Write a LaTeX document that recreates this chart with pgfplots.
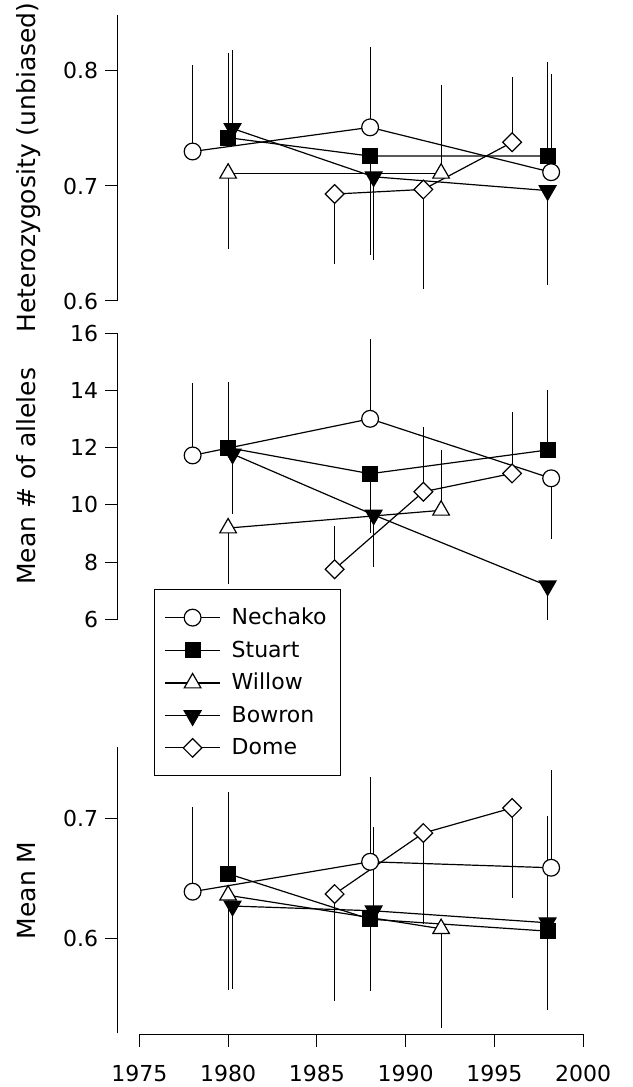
\documentclass[border=0pt]{standalone}
\usepackage{fontspec}
\setmainfont{DejaVu Sans}
\usepackage{pgfplots}
\usepackage{pgfplotstable}
\pgfplotsset{compat=1.18}

% x = year, y = mean, ep/em = one-sided bar up/down
% --- heterozygosity
\pgfplotstableread{
x y ep em
1978 0.730 0.075 0
1988 0.751 0.070 0
1998.2 0.712 0.085 0
}\hNech
\pgfplotstableread{
x y ep em
1980 0.742 0.074 0
1988 0.726 0 0.086
1998 0.726 0.082 0
}\hStu
\pgfplotstableread{
x y ep em
1980 0.711 0 0.066
1992 0.711 0.077 0
}\hWil
\pgfplotstableread{
x y ep em
1980.25 0.750 0.068 0
1988.2 0.708 0 0.072
1998 0.696 0 0.082
}\hBow
\pgfplotstableread{
x y ep em
1986 0.693 0 0.061
1991 0.697 0 0.087
1996 0.738 0.057 0
}\hDome
% --- mean number of alleles
\pgfplotstableread{
x y ep em
1978 11.73 2.53 0
1988 13.01 2.79 0
1998.2 10.93 0 2.13
}\aNech
\pgfplotstableread{
x y ep em
1980 12.00 2.31 0
1988 11.09 0 2.08
1998 11.92 2.08 0
}\aStu
\pgfplotstableread{
x y ep em
1980 9.19 0 1.97
1992 9.81 2.12 0
}\aWil
\pgfplotstableread{
x y ep em
1980.25 11.78 0 2.11
1988.2 9.65 0 1.83
1998 7.17 0 1.19
}\aBow
\pgfplotstableread{
x y ep em
1986 7.75 1.51 0
1991 10.46 2.25 0
1996 11.10 2.14 0
}\aDome
% --- mean M
\pgfplotstableread{
x y ep em
1978 0.639 0.071 0
1988 0.664 0.071 0
1998.2 0.659 0.082 0
}\mNech
\pgfplotstableread{
x y ep em
1980 0.654 0.068 0
1988 0.616 0 0.060
1998 0.606 0 0.066
}\mStu
\pgfplotstableread{
x y ep em
1980 0.636 0 0.079
1992 0.608 0 0.083
}\mWil
\pgfplotstableread{
x y ep em
1980.25 0.627 0 0.069
1988.2 0.623 0.070 0
1998 0.613 0.089 0
}\mBow
\pgfplotstableread{
x y ep em
1986 0.637 0 0.089
1991 0.688 0 0.076
1996 0.709 0 0.075
}\mDome

\pgfplotsset{
  panel/.style={
    scale only axis, width=232.7pt, height=143pt,
    xmin=1973.78, xmax=2000,
    axis x line=none, axis y line*=left,
    axis line style={line width=0.5pt},
    tick align=outside, major tick length=6.3pt,
    every tick/.style={black, line width=0.5pt},
    tick label style={font=\fontsize{11}{13}\selectfont},
    /pgf/number format/assume math mode=true,
    label style={font=\fontsize{12.5}{15}\selectfont},
    clip=false,
    error bars/y dir=both, error bars/y explicit,
    error bars/error mark=none,
    error bars/error bar style={black, line width=0.6pt, solid},
    legend image code/.code={
      \draw[mark repeat=2,mark phase=2] plot coordinates {(0pt,0pt) (13.75pt,0pt) (27.5pt,0pt)};
      \path (31pt,0pt);},
  },
  nech/.style={black, line width=0.6pt, mark=*, mark size=4.2pt, mark options={fill=white, solid}},
  stu/.style={black, line width=0.6pt, mark=square*, mark size=3.75pt, mark options={fill=black, solid}},
  wil/.style={black, line width=0.6pt, mark=triangle*, mark size=4.8pt, mark options={fill=white, solid}},
  bow/.style={black, line width=0.6pt, mark=triangle*, mark size=4.8pt, mark options={fill=black, rotate=180, solid}},
  dome/.style={black, line width=0.6pt, mark=square*, mark size=3.3pt, mark options={fill=white, rotate=45, solid}},
}
\newcommand\series[2]{\addplot[#1] table[x=x, y=y, y error plus=ep, y error minus=em] {#2};}

\begin{document}
\begin{tikzpicture}
\useasboundingbox (0,0) rectangle (316pt,543.5pt);

% heterozygosity
\begin{axis}[panel, at={(58.85pt,393pt)}, anchor=south west,
  ymin=0.6, ymax=0.8487, ytick={0.6,0.7,0.8},
  yticklabel style={/pgf/number format/.cd, fixed, fixed zerofill, precision=1},
  ylabel={Heterozygosity (unbiased)},
  ylabel style={at={(axis description cs:-0.1756,0.467)}, anchor=base}]
\series{nech}{\hNech}
\series{stu}{\hStu}
\series{wil}{\hWil}
\series{bow}{\hBow}
\series{dome}{\hDome}
\end{axis}

% alleles
\begin{axis}[panel, at={(58.85pt,233.85pt)}, anchor=south west,
  ymin=6, ymax=16, ytick={6,8,...,16},
  ylabel={Mean \# of alleles},
  ylabel style={at={(axis description cs:-0.1756,0.5)}, anchor=base},
  legend style={at={(axis description cs:0.078,0.105)}, anchor=north west,
    draw=black, line width=0.5pt, font=\fontsize{11}{13}\selectfont,
    inner xsep=5pt, inner ysep=7pt, nodes={inner xsep=2pt, inner ysep=2pt},
    row sep=2.6pt},
  legend cell align=left]
\series{nech}{\aNech}
\series{stu}{\aStu}
\series{wil}{\aWil}
\series{bow}{\aBow}
\series{dome}{\aDome}
\legend{Nechako,Stuart,Willow,Bowron,Dome}
\end{axis}

% mean M
\begin{axis}[panel, at={(58.85pt,26.85pt)}, anchor=south west,
  ymin=0.5206, ymax=0.7597, ytick={0.6,0.7},
  yticklabel style={/pgf/number format/.cd, fixed, fixed zerofill, precision=1},
  ylabel={Mean M},
  ylabel style={at={(axis description cs:-0.1756,0.5)}, anchor=base}]
\series{nech}{\mNech}
\series{stu}{\mStu}
\series{wil}{\mWil}
\series{bow}{\mBow}
\series{dome}{\mDome}
\end{axis}

% shared year axis
\begin{axis}[scale only axis, width=221.875pt, height=10pt,
  at={(69.65pt,26.5pt)}, anchor=south west,
  xmin=1975, xmax=2000, ymin=0, ymax=1,
  axis x line*=bottom, axis y line=none,
  axis line style={line width=0.5pt},
  xtick={1975,1980,...,2000},
  tick align=outside, major tick length=6.3pt,
  every tick/.style={black, line width=0.5pt},
  tick label style={font=\fontsize{11}{13}\selectfont},
  xticklabel style={yshift=-6pt},
  /pgf/number format/assume math mode=true,
  /pgf/number format/1000 sep={}]
\addplot[draw=none] coordinates {(1975,0)};
\end{axis}
\end{tikzpicture}
\end{document}
